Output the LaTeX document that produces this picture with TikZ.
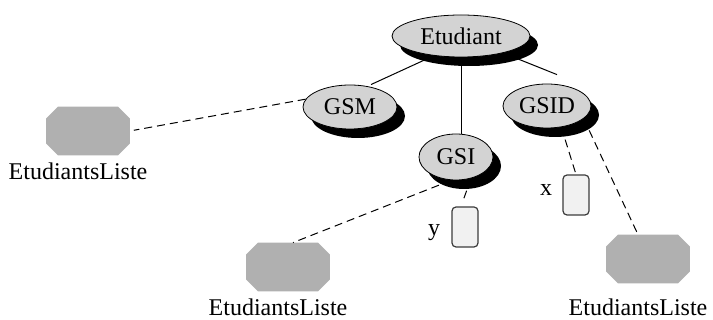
\documentclass[tikz,border=0pt]{standalone}
\usepackage{fontspec}
\setmainfont{Liberation Serif}
\usepackage{xcolor}
\usetikzlibrary{shapes,shadows,positioning,calc}
\definecolor{nodegray}{RGB}{211,211,211}
\definecolor{listgray}{RGB}{176,176,176}
\definecolor{boxgray}{RGB}{241,241,241}
\definecolor{boxline}{RGB}{60,60,60}

\begin{document}
\begin{tikzpicture}[x=0.5pt, y=-0.5pt, font=\fontsize{12}{14}\selectfont]
% Define styles for different types of nodes
\tikzstyle{gnode} = [ellipse, draw, fill=nodegray, inner sep=0pt, drop shadow={shadow xshift=4pt, shadow yshift=-4.5pt, fill=black, opacity=1}]
\tikzstyle{liste} = [rectangle, minimum width=41.5pt, minimum height=24pt, inner sep=0pt]
\tikzstyle{attr} = [rectangle, draw=boxline, fill=boxgray, rounded corners=2pt, minimum width=13pt, minimum height=20pt, inner sep=0pt, line width=0.6pt]
\tikzstyle{tag} = [inner sep=1pt]
\tikzstyle{link} = [draw, line width=0.5pt]
\tikzstyle{dashlink} = [draw, line width=0.5pt, dash pattern=on 4pt off 2.5pt]

\useasboundingbox (0,0) rectangle (713,320);

% Place nodes
\node [gnode, minimum width=69pt, minimum height=21pt] (etu) at (461,36) {Etudiant};
\node [gnode, minimum width=47pt, minimum height=22pt] (gsm) at (350,107) {GSM};
\node [gnode, minimum width=37pt, minimum height=23pt] (gsi) at (456,157) {GSI};
\node [gnode, minimum width=44pt, minimum height=22pt] (gsid) at (547,106) {GSID};
\node [liste] (l1) at (88,131) {};
\node [liste] (l2) at (288,267) {};
\node [liste] (l3) at (648,259) {};
\node [below=0pt of l1, xshift=-5pt] (t1) {EtudiantsListe};
\node [below=0pt of l2, xshift=-5pt] (t2) {EtudiantsListe};
\node [below=4pt of l3, xshift=-5pt] (t3) {EtudiantsListe};
\node [attr] (xb) at (576,195) {};
\node [attr] (yb) at (465,227) {};
\node [tag, left=4pt of xb, yshift=2.7pt] (xl) {x};
\node [tag, left=4.5pt of yb, yshift=-3pt] (yl) {y};

% Cut the corners of the lists
\foreach \n in {l1,l2,l3}
  \fill [listgray] ([xshift=6pt]\n.north west) -- ([xshift=-6pt]\n.north east)
    -- ([yshift=-6pt]\n.north east) -- ([yshift=6pt]\n.south east)
    -- ([xshift=-6pt]\n.south east) -- ([xshift=6pt]\n.south west)
    -- ([yshift=6pt]\n.south west) -- ([yshift=-6pt]\n.north west) -- cycle;

% Connect nodes
\path [link, shorten >=2pt] (etu.216) -- (gsm.50);
\path [link] (etu.south) -- (etu.south |- gsi.north);
\path [link] (etu.-22) -- ([xshift=5pt,yshift=4.5pt]gsid.north);
\path [dashlink, shorten >=2pt] (gsm.170) -- (l1.east);
\path [dashlink] ([xshift=-2.5pt]gsi.south) -- ([xshift=2.5pt]l2.north);
\path [dashlink, shorten >=2pt] (gsi.-55) -- ([xshift=-2pt]yb.north);
\path [dashlink] (gsid.-56) -- (xb.north);
\path [dashlink] (gsid.-19) -- ([xshift=-5pt]l3.north);

\end{tikzpicture}
\end{document}
